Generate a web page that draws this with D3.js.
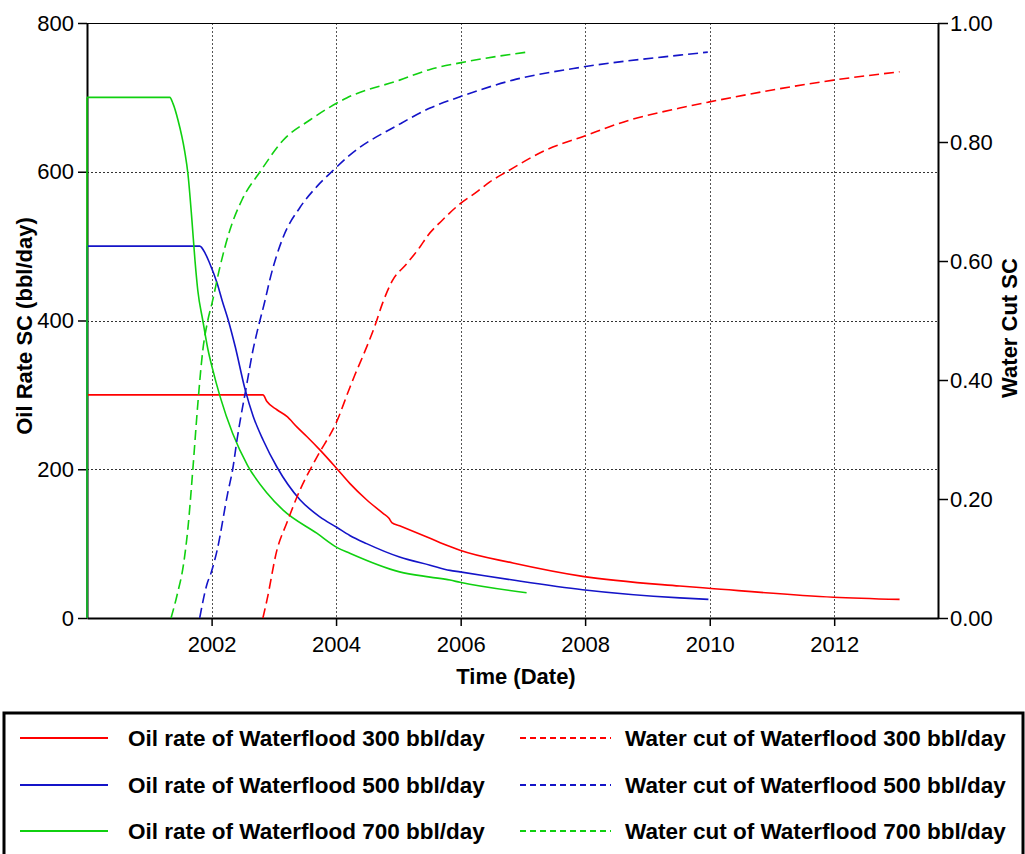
<!DOCTYPE html>
<html>
<head>
<meta charset="utf-8">
<script src="https://cdn.jsdelivr.net/npm/d3@7"></script>
<style>
  body { margin: 0; background: #fff; }
  svg text { font-family: Arial, "Liberation Sans", sans-serif; fill: #000; }
</style>
</head>
<body>
<svg id="chart" width="1025" height="854"></svg>
<script>
// Time is given as years elapsed since 2000-01-01.
// Oil rate (bbl/day) for each waterflood injection rate.
const oilRate300 = [[0,0],[0,300],[2.825,300],[2.89,291],[3.05,280],[3.21,271],[3.37,257],[3.53,244],[3.74,226],[4.01,201],[4.22,181],[4.49,159],[4.75,141],[4.85,134],[4.90,128],[5.02,124],[5.46,109],[5.83,96],[5.99,91],[6.84,74],[7.96,56],[9.52,43],[9.98,40],[11.99,28],[13.05,25]];
const oilRate500 = [[0,0],[0,500],[1.81,500],[1.90,490],[1.97,477],[2.09,450],[2.17,427],[2.27,400],[2.38,365],[2.54,307],[2.67,271],[2.83,239],[3.05,203],[3.42,159],[3.74,136],[4.01,122],[4.22,111],[4.49,100],[5.02,82],[5.51,71],[5.83,64],[5.99,62],[6.84,51],[7.96,38],[9.52,27],[9.98,25]];
const oilRate700 = [[0,0],[0,700],[1.33,700],[1.38,692],[1.46,670],[1.57,627],[1.62,598],[1.685,535],[1.734,481],[1.78,440],[1.86,400],[1.94,362],[2.01,337],[2.14,297],[2.34,248],[2.58,205],[2.89,168],[3.15,145],[3.69,114],[4.01,95],[4.22,87],[5.02,62],[5.51,55],[5.83,51],[5.99,48],[7.06,34]];

// Water cut (fraction) for each waterflood injection rate.
const waterCut300 = [[2.825,0],[2.89,0.03],[3.05,0.114],[3.21,0.16],[3.42,0.215],[3.69,0.27],[4.01,0.33],[4.22,0.387],[4.30,0.408],[4.43,0.44],[4.62,0.49],[4.75,0.53],[4.90,0.566],[5.14,0.596],[5.35,0.624],[5.46,0.641],[5.71,0.669],[5.99,0.696],[6.26,0.716],[6.47,0.733],[6.74,0.75],[7.38,0.787],[7.96,0.809],[8.72,0.837],[9.52,0.857],[9.98,0.867],[11.99,0.904],[13.05,0.918]];
const waterCut500 = [[1.81,0],[1.93,0.058],[1.99,0.075],[2.09,0.114],[2.26,0.21],[2.34,0.25],[2.41,0.30],[2.57,0.395],[2.665,0.45],[2.73,0.48],[2.86,0.534],[2.94,0.57],[3.15,0.64],[3.42,0.69],[3.69,0.725],[3.93,0.75],[4.22,0.778],[5.02,0.83],[5.51,0.857],[5.99,0.876],[6.84,0.904],[7.96,0.926],[9.52,0.946],[9.97,0.951]];
const waterCut700 = [[1.35,0],[1.45,0.04],[1.55,0.09],[1.62,0.15],[1.70,0.25],[1.78,0.36],[1.86,0.45],[1.94,0.50],[2.01,0.53],[2.135,0.59],[2.295,0.652],[2.49,0.703],[2.78,0.75],[3.15,0.803],[3.58,0.837],[4.17,0.874],[5.02,0.904],[5.51,0.922],[5.99,0.933],[7.06,0.951]];

// Axis ticks and labels
const yearTicks = [2002, 2004, 2006, 2008, 2010, 2012];
const oilTicks = [0, 200, 400, 600, 800];
const cutTicks = [0, 0.2, 0.4, 0.6, 0.8, 1.0];
const legendLabels = [
  ["Oil rate of Waterflood 300 bbl/day", "Water cut of Waterflood 300 bbl/day"],
  ["Oil rate of Waterflood 500 bbl/day", "Water cut of Waterflood 500 bbl/day"],
  ["Oil rate of Waterflood 700 bbl/day", "Water cut of Waterflood 700 bbl/day"]
];

const RED = "#ff0000", BLUE = "#1414c8", GREEN = "#10d010";

const svg = d3.select("#chart");
const plot = { left: 87, right: 938, top: 23, bottom: 618 };

const origin = new Date(2000, 0, 1).getTime();
const toDate = yrs => new Date(origin + yrs * 365.25 * 86400000);

const x = d3.scaleTime()
  .domain([new Date(2000, 0, 1), new Date(2013, 8, 1)])
  .range([plot.left, plot.right]);
const yOil = d3.scaleLinear().domain([0, 800]).range([plot.bottom, plot.top]);
const yCut = d3.scaleLinear().domain([0, 1]).range([plot.bottom, plot.top]);

// Grid lines
const grid = svg.append("g");
grid.selectAll("line.v").data(yearTicks).join("line")
  .attr("x1", d => Math.round(x(new Date(d, 0, 1))) + 0.5)
  .attr("x2", d => Math.round(x(new Date(d, 0, 1))) + 0.5)
  .attr("y1", plot.top).attr("y2", plot.bottom)
  .attr("stroke", "#555").attr("stroke-width", 1).attr("stroke-dasharray", "2,2");
grid.selectAll("line.h").data(oilTicks.filter(d => d > 0 && d < 800)).join("line")
  .attr("x1", plot.left).attr("x2", plot.right)
  .attr("y1", d => Math.round(yOil(d)) + 0.5)
  .attr("y2", d => Math.round(yOil(d)) + 0.5)
  .attr("stroke", "#333").attr("stroke-width", 1).attr("stroke-dasharray", "2,2");

// Top frame line
svg.append("line")
  .attr("x1", plot.left).attr("x2", plot.right)
  .attr("y1", plot.top + 0.5).attr("y2", plot.top + 0.5)
  .attr("stroke", "#000").attr("stroke-width", 1);

function styleAxis(g) {
  g.select(".domain").attr("stroke", "#000").attr("stroke-width", 2);
  g.selectAll(".tick line").attr("stroke", "#000").attr("stroke-width", 1.5);
  g.selectAll(".tick text").attr("font-size", 22).attr("fill", "#000")
    .attr("font-family", 'Arial, "Liberation Sans", sans-serif');
}

// Left axis: oil rate
const gLeft = svg.append("g").attr("transform", `translate(${plot.left},0)`)
  .call(d3.axisLeft(yOil).tickValues(oilTicks).tickSize(9).tickPadding(4).tickSizeOuter(0));
styleAxis(gLeft);

// Right axis: water cut
const gRight = svg.append("g").attr("transform", `translate(${plot.right},0)`)
  .call(d3.axisRight(yCut).tickValues(cutTicks).tickFormat(d3.format(".2f")).tickSize(10).tickPadding(2).tickSizeOuter(0));
styleAxis(gRight);

// Bottom axis: time
const gBottom = svg.append("g").attr("transform", `translate(0,${plot.bottom})`)
  .call(d3.axisBottom(x).tickValues(yearTicks.map(y => new Date(y, 0, 1)))
    .tickFormat(d3.timeFormat("%Y")).tickSize(8).tickPadding(10).tickSizeOuter(0));
styleAxis(gBottom);

// Axis titles
svg.append("text").attr("x", 516).attr("y", 676)
  .attr("text-anchor", "middle").attr("dominant-baseline", "central")
  .attr("font-size", 22).attr("font-weight", "bold").text("Time (Date)");
svg.append("text")
  .attr("transform", "translate(24,326) rotate(-90)")
  .attr("text-anchor", "middle").attr("dominant-baseline", "central")
  .attr("font-size", 22).attr("font-weight", "bold").text("Oil Rate SC (bbl/day)");
svg.append("text")
  .attr("transform", "translate(1009,328) rotate(-90)")
  .attr("text-anchor", "middle").attr("dominant-baseline", "central")
  .attr("font-size", 22).attr("font-weight", "bold").text("Water Cut SC");

// Series: the oil rate jumps from zero to its plateau at the start (straight segment),
// then follows a smooth decline curve.
const oilStep = d3.line()
  .x(d => x(toDate(d[0])))
  .y(d => yOil(d[1]));
const oilCurve = d3.line()
  .x(d => x(toDate(d[0])))
  .y(d => yOil(d[1]))
  .curve(d3.curveMonotoneX);
const cutLine = d3.line()
  .x(d => x(toDate(d[0])))
  .y(d => yCut(d[1]))
  .curve(d3.curveMonotoneX);

const lines = svg.append("g").attr("fill", "none");
[[oilRate300, RED], [oilRate500, BLUE], [oilRate700, GREEN]].forEach(([data, color]) => {
  const g = lines.append("g").attr("stroke", color).attr("stroke-width", 1.6);
  g.append("path").attr("d", oilStep(data.slice(0, 2)));
  g.append("path").attr("d", oilCurve(data.slice(1))).attr("stroke-linejoin", "round");
});
[[waterCut300, RED], [waterCut500, BLUE], [waterCut700, GREEN]].forEach(([data, color]) => {
  lines.append("path").attr("d", cutLine(data))
    .attr("stroke", color).attr("stroke-width", 1.6).attr("stroke-dasharray", "10,5");
});

// Legend
const legend = svg.append("g");
legend.append("rect")
  .attr("x", 4).attr("y", 713).attr("width", 1019).attr("height", 160)
  .attr("fill", "none").attr("stroke", "#000").attr("stroke-width", 3);
const rowY = [738, 785, 831];
const colors = [RED, BLUE, GREEN];
legendLabels.forEach((pair, i) => {
  const yy = rowY[i];
  legend.append("line").attr("x1", 20).attr("x2", 108).attr("y1", yy).attr("y2", yy)
    .attr("stroke", colors[i]).attr("stroke-width", 2);
  legend.append("text").attr("x", 128).attr("y", yy).attr("dominant-baseline", "central")
    .attr("font-size", 22.5).attr("font-weight", "bold").text(pair[0]);
  legend.append("line").attr("x1", 520).attr("x2", 611).attr("y1", yy).attr("y2", yy)
    .attr("stroke", colors[i]).attr("stroke-width", 2).attr("stroke-dasharray", "6,4");
  legend.append("text").attr("x", 625).attr("y", yy).attr("dominant-baseline", "central")
    .attr("font-size", 22.5).attr("font-weight", "bold").text(pair[1]);
});
</script>
</body>
</html>
